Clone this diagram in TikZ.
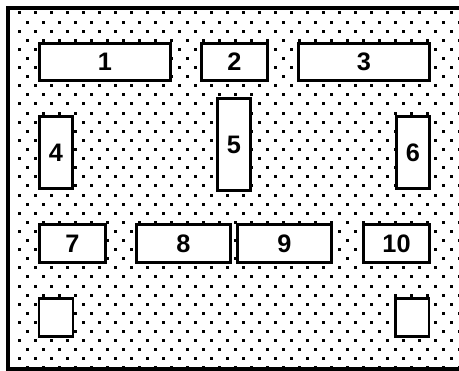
\documentclass[tikz,border=0pt]{standalone}
\usepackage{fontspec}
\setmainfont{Liberation Sans}
\usetikzlibrary{positioning}

\begin{document}
\begin{tikzpicture}[x=0.02cm,y=-0.02cm,
  main node/.style={rectangle,draw,fill=white,line width=1.7pt,inner sep=0pt,
    font=\Large\bfseries},
  wide box/.style={main node,minimum width=2.62cm,minimum height=0.74cm},
  mid box/.style={main node,minimum width=1.88cm,minimum height=0.76cm},
  short box/.style={main node,minimum width=1.32cm,minimum height=0.76cm},
  tall box/.style={main node,minimum width=0.66cm,minimum height=1.44cm},
  small box/.style={main node,minimum width=0.68cm,minimum height=0.76cm}]

\useasboundingbox (0,0) rectangle (459,371);

%dotted background
\foreach \j in {0,...,39}{
  \foreach \i in {0,...,28}{
    \pgfmathsetmacro{\dx}{19+16*\i+8*mod(\j,2)}
    \pgfmathsetmacro{\dy}{13+9.1*\j}
    \fill (\dx-1.5,\dy-1.5) rectangle (\dx+1.5,\dy+1.5);
  }
}

%frame
\coordinate (tl) at (8,8);
\coordinate (tr) at (459,8);
\coordinate (bl) at (8,369);
\coordinate (br) at (459,369);
\draw[line width=2.2pt] (tr) -- (tl) -- (bl) -- (br);

%top row
\node[wide box] (1) at (105,62) {1};
\node[short box,minimum height=0.74cm] (2) at (234.5,62) {2};
\node[wide box] (3) at (364,62) {3};

%middle row
\node[tall box] (4) at (56,152.5) {4};
\node[tall box,minimum height=1.84cm] (5) at (234,144.5) {5};
\node[tall box] (6) at (413,152.5) {6};

%lower row
\node[short box] (7) at (72.5,243.5) {7};
\node[mid box] (8) at (183.5,243.5) {8};
\node[mid box] (9) at (284.5,243.5) {9};
\node[short box] (10) at (396.5,243.5) {10};

%empty boxes
\node[small box] (11) at (56,317.5) {};
\node[small box] (12) at (412,317.5) {};

\end{tikzpicture}
\end{document}
